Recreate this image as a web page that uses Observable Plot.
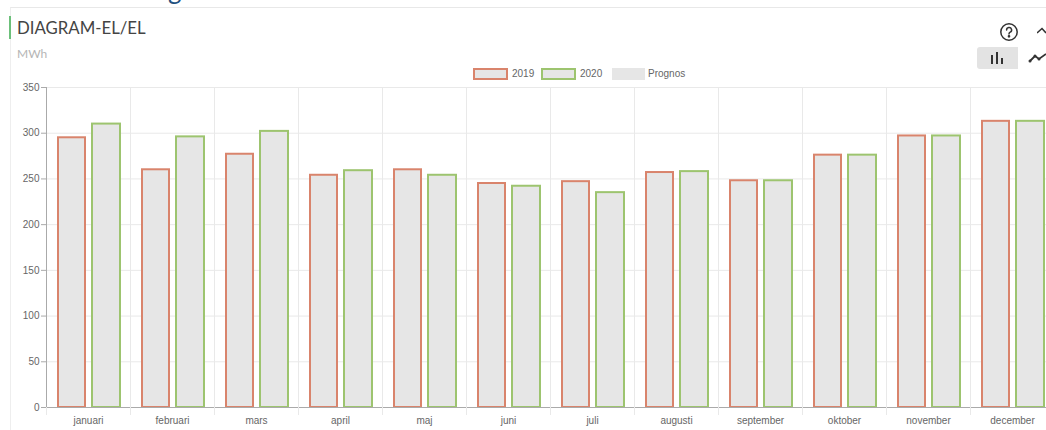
<!DOCTYPE html>
<html><head><meta charset="utf-8">
<script src="https://cdn.jsdelivr.net/npm/d3@7"></script>
<script src="https://cdn.jsdelivr.net/npm/@observablehq/plot@0.6"></script>
<style>
html,body{margin:0;padding:0;background:#fff;width:1046px;height:430px;overflow:hidden;font-family:"Liberation Sans",Arial,sans-serif}
#page{position:relative;width:1046px;height:430px;overflow:hidden}
.abs{position:absolute}
#chart{position:absolute;left:0;top:70px}
#chart svg{display:block;background:transparent}
.sw{position:absolute;top:68px;height:11px;width:33px;background:#e6e6e6;box-sizing:content-box}
.lt{position:absolute;top:67px;font-size:10px;line-height:13px;color:#666}
</style></head><body><div id="page">
<div class="abs" style="left:168px;top:-24px;font:26px/26px Lato,sans-serif;color:#1f5080">g</div>
<div class="abs" style="left:10px;top:7px;width:1036px;height:423px;border-top:1px solid #e8e8e8;border-left:1px solid #eee"></div>
<div class="abs" style="left:9px;top:16px;width:2px;height:23px;background:#6cc07a"></div>
<div class="abs" style="left:17px;top:17px;font:16.8px/22px Lato,sans-serif;color:#444;white-space:nowrap">DIAGRAM-EL/EL</div>
<div class="abs" style="left:17px;top:46px;font:12px/16px Lato,sans-serif;color:#b5b5b5">MWh</div>
<div class="sw" style="left:473px;border:2px solid #d9846c;height:8px;width:31px"></div>
<div class="lt" style="left:512px">2019</div>
<div class="sw" style="left:541px;border:2px solid #9dc46f;height:8px;width:31px"></div>
<div class="lt" style="left:580px">2020</div>
<div class="sw" style="left:612px;height:12px;width:33px"></div>
<div class="lt" style="left:648px">Prognos</div>
<svg class="abs" style="left:998px;top:20px" width="24" height="24" viewBox="0 0 24 24" fill="none" stroke="#333" stroke-width="1.5"><circle cx="11" cy="12" r="8.2"/><path d="M8.6 10a2.5 2.5 0 1 1 3.6 2.2c-.8.4-1.2.9-1.200 1.800" stroke-linecap="round"/><circle cx="11" cy="16.300" r=".6" fill="#333"/></svg>
<svg class="abs" style="left:1037px;top:26px" width="9" height="10" fill="none" stroke="#333" stroke-width="1.5"><path d="M0 7l5-4.500 4 4.500"/></svg>
<div class="abs" style="left:977px;top:47px;width:41px;height:22px;background:#e3e3e3;border-radius:3px 0 0 3px"></div>
<svg class="abs" style="left:990px;top:52px" width="16" height="12" fill="#333"><rect x="1" y="3" width="2" height="9"/><rect x="6" y="0" width="2" height="12"/><rect x="11" y="6" width="2" height="6"/></svg>
<svg class="abs" style="left:1028px;top:52px" width="18" height="12" fill="#333" stroke="#333" stroke-width="1.800"><path fill="none" d="M2 9l5-5 4 3 7-5"/><circle cx="2" cy="9" r=".6"/><circle cx="7" cy="4" r=".6"/><circle cx="11" cy="7" r=".6"/></svg>
<div id="chart"></div>
</div>
<script>
const months = ["januari","februari","mars","april","maj","juni","juli","augusti","september","oktober","november","december"];
const values2019 = [295,260,277,254,260,245,247,257,248,276,297,313];
const values2020 = [310,296,302,259,254,242,235,258,248,276,297,313];
const yTicks = [0,50,100,150,200,250,300,350];
const fillPrognos = "#e6e6e6", stroke2019 = "#d9846c", stroke2020 = "#9dc46f", grid = "#e9e9e9", axisCol = "#aaa";
const d19 = months.map((m,i)=>({m,v:values2019[i]}));
const d20 = months.map((m,i)=>({m,v:values2020[i]}));
const plot = Plot.plot({
  width:1046, height:360, marginTop:17, marginBottom:23, marginLeft:46, marginRight:0,
  style:{fontFamily:'"Liberation Sans",Arial,sans-serif',fontSize:"10px",color:"#666",background:"transparent"},
  x:{domain:months, range:[46,1054], padding:0, label:null},
  y:{domain:[0,350], label:null},
  marks:[
    Plot.gridY(yTicks,{stroke:grid,strokeOpacity:1}),
    Plot.gridX(months,{stroke:grid,strokeOpacity:1,dx:-42}),
    Plot.barY(d19,{x:"m",y:"v",fill:fillPrognos,stroke:stroke2019,strokeWidth:2,insetLeft:12,insetRight:45}),
    Plot.barY(d20,{x:"m",y:"v",fill:fillPrognos,stroke:stroke2020,strokeWidth:2,insetLeft:46,insetRight:10}),
    Plot.ruleX([months[0]],{dx:-42,stroke:axisCol}),
    Plot.ruleY([0],{stroke:axisCol}),
    Plot.axisY({ticks:yTicks,tickSize:5,tickPadding:2,stroke:axisCol,fill:"#666",label:null}),
    Plot.axisX({tickSize:8,text:null,dx:-42,stroke:grid}),
    Plot.axisX({tickSize:0,tickPadding:9,fill:"#666",label:null})
  ]
});
document.getElementById("chart").appendChild(plot);
</script></body></html>
